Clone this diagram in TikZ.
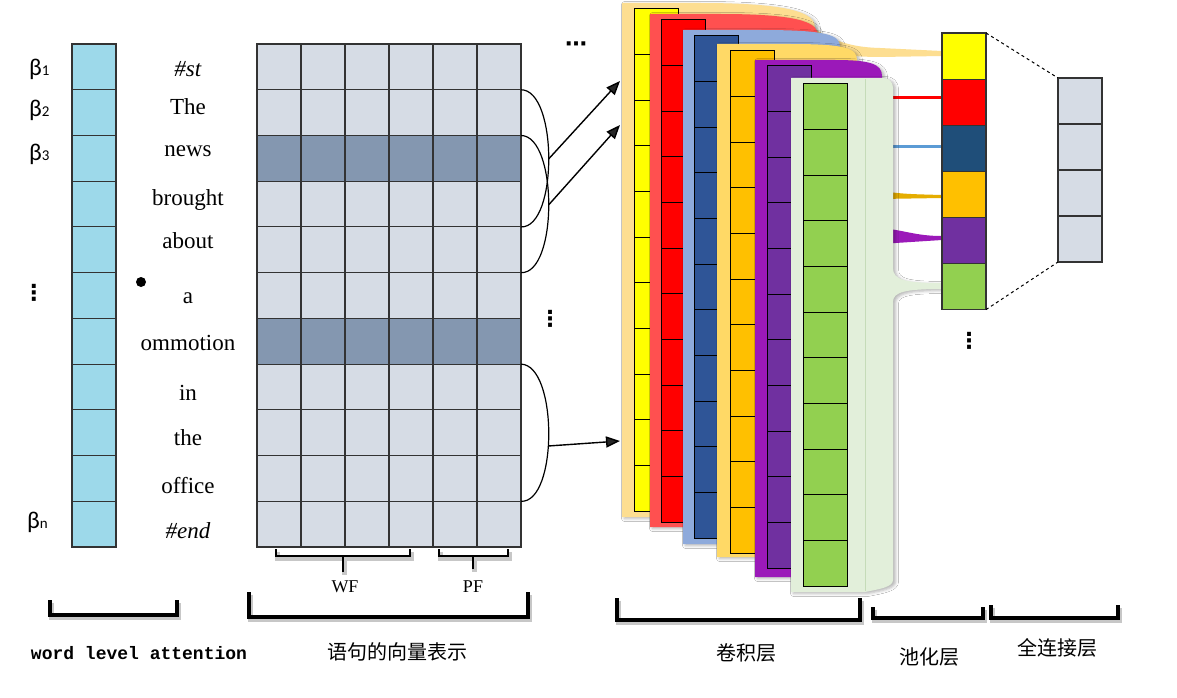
\documentclass[tikz,border=0pt]{standalone}
\usepackage{fontspec}
\setmainfont{Liberation Serif}
\newfontfamily\betafont{Carlito}
\newfontfamily\codefont{Liberation Mono}
\newfontfamily\cnfont{Noto Sans CJK SC}
\newfontfamily\symfont{DejaVu Sans}
\usepackage{tikz}
\usetikzlibrary{positioning,arrows.meta,calc,shadows.blur}

\definecolor{attblue}{RGB}{157,217,234}
\definecolor{gridlight}{RGB}{214,220,229}
\definecolor{griddark}{RGB}{132,151,176}
\definecolor{beigeP}{RGB}{253,222,145}
\definecolor{yellowC}{RGB}{255,255,0}
\definecolor{redP}{RGB}{255,80,80}
\definecolor{redC}{RGB}{255,0,0}
\definecolor{blueP}{RGB}{142,170,219}
\definecolor{blueC}{RGB}{47,85,151}
\definecolor{orangeP}{RGB}{255,217,102}
\definecolor{orangeC}{RGB}{255,192,0}
\definecolor{purpleP}{RGB}{155,25,185}
\definecolor{purpleC}{RGB}{112,48,160}
\definecolor{greenP}{RGB}{226,239,218}
\definecolor{greenS}{RGB}{197,219,184}
\definecolor{greenC}{RGB}{146,208,80}
\definecolor{poolblue}{RGB}{31,78,121}
\definecolor{ribblue}{RGB}{91,155,213}

\newcommand\betasub[1]{β{\fontsize{15}{15}\selectfont #1}}

\begin{document}
\begin{tikzpicture}[x=1pt, y=-1pt,
  cell/.style={draw=black!80, line width=1.1pt, minimum width=44pt,
               minimum height=45.73pt, inner sep=0pt, outer sep=0pt},
  attcell/.style={cell, fill=attblue},
  gcell/.style={cell, fill=#1}, gcell/.default=gridlight,
  pcell/.style={cell, minimum height=46.1pt, fill=#1},
  fcell/.style={cell, minimum height=46pt, fill=gridlight},
  word/.style={anchor=base, font=\fontsize{23}{26}\selectfont},
  betalbl/.style={anchor=base west, inner sep=0pt,
                  font=\betafont\fontsize{24}{26}\selectfont},
  dots/.style={font=\symfont\bfseries\fontsize{22}{24}\selectfont, inner sep=0pt},
  bracket/.style={line width=3.5pt,
    preaction={draw=black!22, line width=5pt,
               transform canvas={xshift=1.5pt, yshift=-2.5pt}}},
  smallbracket/.style={bracket, line width=2.5pt},
  cnlbl/.style={font=\cnfont\fontsize{20}{22}\selectfont},
  flow/.style={line width=1.4pt, -{Triangle[length=14pt,width=11pt]}},
  span/.style={line width=1.2pt},
  panelshadow/.style={blur shadow={shadow xshift=2.5pt, shadow yshift=-1.5pt,
                      shadow blur radius=3pt, shadow opacity=30}}
]
  \useasboundingbox (0,0) rectangle (1177,698);
  \fill[white] (0,0) rectangle (1177,698);

  % Attention weights
  \foreach \r in {0,...,10}
    \node[attcell] (a\r) at (94,{66.87+45.73*\r}) {};
  \node[betalbl] (b1) at (29,76) {\betasub{1}};
  \node[betalbl] (b2) at (29,117) {\betasub{2}};
  \node[betalbl] (b3) at (29,160) {\betasub{3}};
  \node[dots] (bdots) at (34,293) {⋮};
  \node[betalbl] (bn) at (27,528) {\betasub{n}};

  % Words
  \node[word] (w0) at (188,77) {\textit{\#st}};
  \node[word] (w1) at (188,115) {The};
  \node[word] (w2) at (188,157) {news};
  \node[word] (w3) at (188,205) {brought};
  \node[word] (w4) at (188,248) {about};
  \node[word] (w5) at (188,303) {a};
  \node[word] (w6) at (188,350) {ommotion};
  \node[word] (w7) at (188,400) {in};
  \node[word] (w8) at (188,445) {the};
  \node[word] (w9) at (188,493) {office};
  \node[word] (w10) at (188,538) {\textit{\#end}};
  \node[circle, fill=black, minimum size=10pt, inner sep=0pt] (bullet) at (141,282) {};

  % Sentence matrix
  \foreach \r/\f in {0/gridlight,1/gridlight,2/griddark,3/gridlight,4/gridlight,
                     5/gridlight,6/griddark,7/gridlight,8/gridlight,9/gridlight,
                     10/gridlight}
    \foreach \c in {0,...,5}
      \node[gcell=\f] (g\r-\c) at ({279+44*\c},{66.87+45.73*\r}) {};

  % Windows
  \draw[span] (g1-5.north east) .. controls (558,90) and (558,228) ..
    coordinate[pos=0.5] (m1) (g4-5.north east);
  \draw[span] (g2-5.north east) .. controls (558,136) and (558,274) ..
    coordinate[pos=0.5] (m2) (g5-5.north east);
  \draw[span] (g7-5.north east) .. controls (558,365) and (558,503) ..
    coordinate[pos=0.56] (m3) (g10-5.north east);
  \node[dots] (mdots) at (550,319) {⋮};
  \node[dots] (tdots) at (576,47) {⋯};

  % Feature maps
  \coordinate (t1) at (620,81);
  \coordinate (t2) at (620,125);
  \coordinate (t3) at (620,441);
  \fill[beigeP] (790,10) .. controls (820,35) and (840,47) .. (880,48)
    -- (942,51) -- (942,56) -- (880,57) .. controls (840,57) and (810,50) .. (790,40) -- cycle;
  \foreach \xl/\yt/\yb/\xa/\xr/\ye/\pc/\ic/\ix/\it in
    {622/3/517/700/815/28/beigeP/yellowC/634/9,
     650/14/527/720/818/36/redP/redC/661/20,
     683/30/544/760/840/47/blueP/blueC/694/36,
     717/44/557/790/857/60/orangeP/orangeC/730/51,
     755/60/577/835/882/76/purpleP/purpleC/767/66}
  {
    \fill[\pc, panelshadow] (\xl,\yb) -- (\xl,\yt) -- (\xa,\yt)
      .. controls ({\xr-12},\yt) and (\xr,{\ye-12}) .. (\xr,\ye) -- (\xr,\yb) -- cycle;
    \foreach \k in {0,...,10}
      \draw[fill=\ic, line width=1pt] (\ix,{\it+45.64*\k}) rectangle ++(44,45.64);
  }

  % Pooling flows
  \fill[redC] (880,96.5) rectangle (942,99.5);
  \fill[ribblue] (880,145) rectangle (942,148);
  \fill[orangeC!90!black] (880,191) .. controls (905,194) .. (942,195) -- (942,198) -- (880,199) -- cycle;
  \fill[purpleP] (880,228) .. controls (905,230) and (915,236) .. (942,236)
    -- (942,240) -- (880,244) -- cycle;
  \fill[greenP, panelshadow] (791,592) -- (791,78) -- (883,78)
    .. controls (889,78) and (893,82) .. (893,88) -- (893,268)
    .. controls (893,280) and (905,283) .. (942,283) -- (942,289)
    .. controls (905,289) and (893,292) .. (893,302) -- (893,580)
    .. controls (893,587) and (880,589) .. (865,592) -- cycle;
  \draw[greenS, line width=1pt] (865,79) -- (865,591);
  \foreach \k in {0,...,10}
    \draw[fill=greenC, line width=1pt] (803,{84+45.64*\k}) rectangle ++(44,45.64);

  % Arrows
  \draw[flow] (m1) -- (t1);
  \draw[flow] (m2) -- (t2);
  \draw[flow] (m3) -- (t3);

  % Pooling layer
  \foreach \i/\f in {0/yellowC,1/redC,2/poolblue,3/orangeC,4/purpleC,5/greenC}
    \node[pcell=\f] (p\i) at (964,{56.05+46.1*\i}) {};
  \node[dots] (pdots) at (969,341) {⋮};

  % Fully connected layer
  \foreach \i in {0,...,3}
    \node[fcell] (f\i) at (1080,{101+46*\i}) {};
  \draw[dashed, line width=1pt] (p0.north east) -- (f0.north west);
  \draw[dashed, line width=1pt] (p5.south east) -- (f3.south west);

  % Feature groups
  \draw[smallbracket] (276,549) -- (276,556) -- (410,556) -- (410,549);
  \draw[smallbracket] (343,556) -- (343,572);
  \draw[smallbracket] (439,549) -- (439,556) -- (508,556) -- (508,549);
  \draw[smallbracket] (473,556) -- (473,569);
  \node[anchor=base, font=\fontsize{18}{20}\selectfont] (wf) at (345,592) {WF};
  \node[anchor=base, font=\fontsize{18}{20}\selectfont] (pf) at (473,592) {PF};

  % Layer brackets
  \draw[bracket] (50,600) -- (50,615) -- (177,615) -- (177,600);
  \draw[bracket] (249,592) -- (249,617) -- (528,617) -- (528,592);
  \draw[bracket] (617,598) -- (617,620) -- (860,620) -- (860,598);
  \draw[bracket] (873,607) -- (873,618) -- (983,618) -- (983,607);
  \draw[bracket] (991,605) -- (991,618) -- (1118,618) -- (1118,605);

  \node[anchor=base, font=\codefont\bfseries\fontsize{18}{20}\selectfont] (attlbl)
    at (139,659) {word level attention};
  \node[cnlbl] (veclbl) at (397,652) {语句的向量表示};
  \node[cnlbl] (convlbl) at (746,653) {卷积层};
  \node[cnlbl] (poollbl) at (929,657) {池化层};
  \node[cnlbl] (fclbl) at (1057,648) {全连接层};
\end{tikzpicture}
\end{document}
